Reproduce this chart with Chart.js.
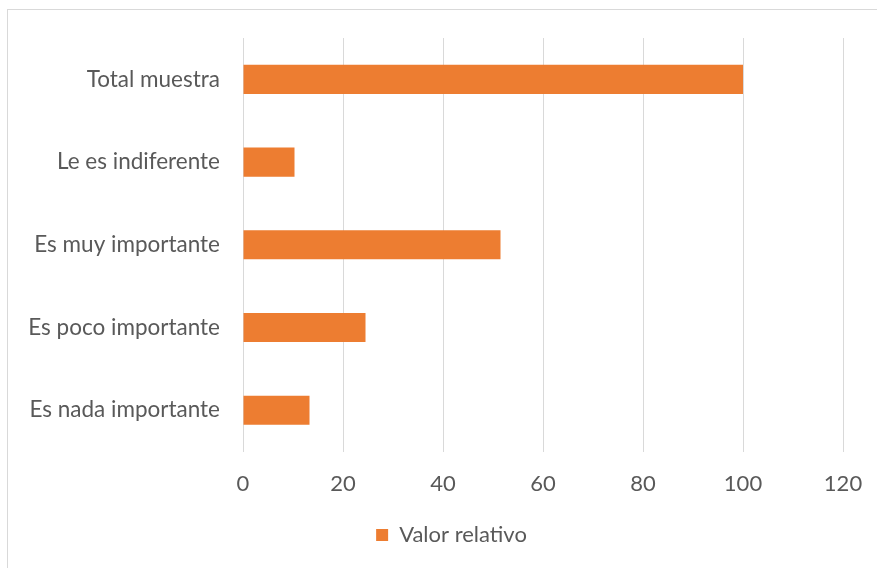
<!DOCTYPE html>
<html>
<head>
<meta charset="utf-8">
<script src="https://cdn.jsdelivr.net/npm/chart.js@4/dist/chart.umd.min.js"></script>
<style>
  html, body { margin: 0; padding: 0; background: #fff; }
  #wrap { width: 877px; height: 568px; position: relative; }
</style>
</head>
<body>
<div id="wrap"><canvas id="valorChart"></canvas></div>
<script>
const CATEGORIAS = ['Total muestra', 'Le es indiferente', 'Es muy importante', 'Es poco importante', 'Es nada importante'];
const VALOR_RELATIVO = [100, 10.3, 51.5, 24.5, 13.3];
const TICKS_X = [0, 20, 40, 60, 80, 100, 120];

const TEXTO = '#595959';
const GRID = '#d9d9d9';
const NARANJA = '#ed7d31';

// thin frame around the chart, open to the right and bottom
const marco = {
    id: 'marco',
    beforeDraw(chart) {
        const ctx = chart.ctx;
        ctx.save();
        ctx.strokeStyle = GRID;
        ctx.lineWidth = 1;
        ctx.strokeRect(7.5, 9.5, 900, 600);
        ctx.restore();
    }
};

// push the legend a bit to the right of the canvas centre
const leyendaDesplazada = {
    id: 'leyendaDesplazada',
    afterLayout(chart) {
        chart.legend.left += 30;
        chart.legend.right += 30;
    }
};

Chart.defaults.font.family = 'Lato, "Open Sans", sans-serif';
Chart.defaults.color = TEXTO;

const valorChart = new Chart(document.getElementById('valorChart'), {
    type: 'bar',
    data: {
        labels: CATEGORIAS,
        datasets: [{
            label: 'Valor relativo',
            data: VALOR_RELATIVO,
            backgroundColor: NARANJA,
            borderWidth: 0,
            categoryPercentage: 1,
            barPercentage: 0.352
        }]
    },
    options: {
        indexAxis: 'y',
        responsive: true,
        maintainAspectRatio: false,
        animation: false,
        layout: { padding: { top: 38, right: 34, left: 0, bottom: 12 } },
        scales: {
            x: {
                min: TICKS_X[0],
                max: TICKS_X[TICKS_X.length - 1],
                afterBuildTicks(scale) {
                    scale.ticks = TICKS_X.map(v => ({ value: v }));
                },
                afterFit(scale) {
                    scale.paddingLeft = 0;
                    scale.paddingRight = 0;
                },
                grid: { color: GRID, drawTicks: false },
                border: { display: false },
                ticks: { font: { size: 22 }, padding: 19, color: TEXTO }
            },
            y: {
                afterFit(scale) { scale.width = 243; },
                grid: { display: false },
                border: { display: false },
                ticks: { font: { size: 22.5 }, padding: 15, color: TEXTO }
            }
        },
        plugins: {
            legend: {
                position: 'bottom',
                labels: {
                    boxWidth: 12,
                    boxHeight: 12,
                    padding: 8,
                    font: { size: 22 },
                    color: TEXTO
                }
            },
            tooltip: { enabled: false }
        }
    },
    plugins: [marco, leyendaDesplazada]
});
</script>
</body>
</html>
